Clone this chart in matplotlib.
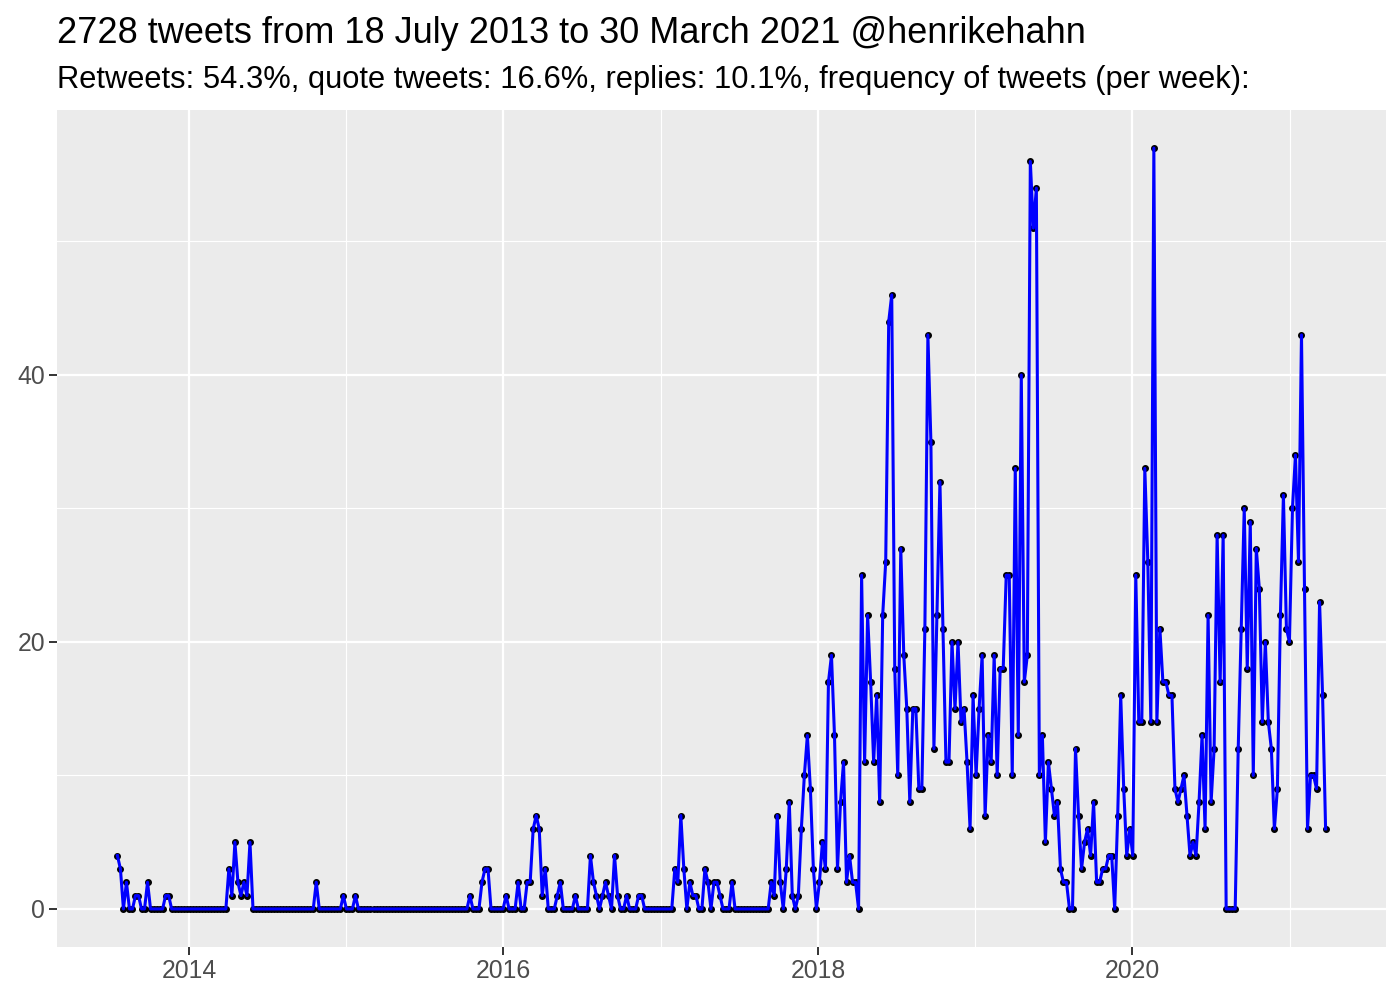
import pandas as pd
import matplotlib
matplotlib.use('Agg')
import matplotlib.pyplot as plt
import matplotlib.dates as mdates
from matplotlib.ticker import MultipleLocator

# Datos: tweets por semana
start_date = '2013-07-18'
weekly_counts = (
    [4, 3, 0, 2, 0, 0, 1, 1, 0, 0, 2, 0, 0, 0, 0, 0, 1, 1]
    + [0] * 18
    + [0, 3, 1, 5, 2, 1, 2, 1, 5, 0]
    + [0] * 20
    + [2] + [0] * 8 + [1] + [0] * 3 + [1]
    + [0] * 37
    + [1, 0, 0, 0, 2, 3, 3, 0, 0, 0, 0, 0, 1, 0, 0, 0]
    + [2, 0, 0, 2, 2, 6, 7, 6, 1, 3, 0, 0, 0, 1, 2, 0, 0, 0, 0, 1, 0, 0,
       0, 0, 4, 2, 1, 0, 1, 2, 1, 0, 4, 1, 0, 0, 1, 0, 0, 0, 1, 1, 0]
    + [0] * 9
    + [3, 2, 7, 3, 0, 2, 1, 1, 0, 0, 3, 2, 0, 2, 2, 1, 0, 0, 0, 2]
    + [0] * 12
    + [2, 1, 7, 2, 0, 3, 8, 1, 0, 1, 6, 10, 13]
    + [9, 3, 0, 2, 5, 3, 17, 19, 13, 3, 8, 11, 2, 4, 2, 2, 0]
    + [25, 11, 22, 17, 11, 16, 8, 22, 26, 44, 46, 18, 10, 27, 19, 15, 8,
       15, 15, 9, 9, 21, 43, 35, 12, 22, 32, 21, 11, 11, 20, 15, 20, 14]
    + [15, 11, 6, 16, 10, 15, 19, 7, 13, 11, 19, 10, 18, 18, 25, 25, 10,
       33, 13, 40, 17, 19, 56, 51, 54]
    + [10, 13, 5, 11, 9, 7, 8, 3, 2, 2, 0, 0, 12, 7, 3, 5, 6, 4, 8, 2, 2,
       3, 3, 4, 4, 0, 7, 16, 9, 4, 6, 4, 25, 14]
    + [14, 33, 26, 14, 57, 14, 21, 17, 17, 16, 16, 9, 8, 9, 10, 7, 4, 5,
       4, 8, 13, 6, 22, 8, 12, 28, 17, 28]
    + [0, 0, 0, 0]
    + [12, 21, 30, 18, 29, 10, 27, 24, 14, 20, 14, 12, 6, 9, 22, 31, 21,
       20, 30, 34, 26, 43, 24, 6, 10, 10, 9, 23, 16, 6]
)
weeks = pd.date_range(start_date, periods=len(weekly_counts), freq='7D')

title = '2728 tweets from 18 July 2013 to 30 March 2021 @henrikehahn'
subtitle = ('Retweets: 54.3%, quote tweets: 16.6%, replies: 10.1%, '
            'frequency of tweets (per week):')

plt.rcParams['font.family'] = ['Liberation Sans', 'DejaVu Sans']

fig = plt.figure(figsize=(14, 10), dpi=100)
ax = fig.add_axes([57 / 1400, 53 / 1000, 1329 / 1400, 837 / 1000])

# Estilo tipo ggplot (theme_gray)
ax.set_facecolor('#EBEBEB')
for spine in ax.spines.values():
    spine.set_visible(False)
ax.set_axisbelow(True)

# Serie: puntos negros debajo de la línea azul
ax.plot(weeks, weekly_counts, linestyle='none', marker='o', markersize=4,
        color='black', zorder=2)
ax.plot(weeks, weekly_counts, color='blue', linewidth=2.2, zorder=3)

ax.margins(x=0.05)
ax.set_ylim(-2.85, 59.85)

# Ejes y rejilla
ax.xaxis.set_major_locator(mdates.YearLocator(2))
ax.xaxis.set_major_formatter(mdates.DateFormatter('%Y'))
ax.xaxis.set_minor_locator(mdates.YearLocator(1))
ax.yaxis.set_major_locator(MultipleLocator(20))
ax.yaxis.set_minor_locator(MultipleLocator(10))

ax.grid(which='major', color='white', linewidth=1.6)
ax.grid(which='minor', color='white', linewidth=0.8)
ax.tick_params(which='major', length=5.5, width=1.4, color='#333333',
               labelsize=17.8, labelcolor='#4D4D4D', pad=3)
ax.tick_params(which='minor', length=0)

# Títulos
fig.text(57 / 1400, 1 - 43 / 1000, title, fontsize=26, va='baseline',
         ha='left', color='black')
fig.text(57 / 1400, 1 - 88 / 1000, subtitle, fontsize=22.2, va='baseline',
         ha='left', color='black')

fig.savefig('out.png', dpi=100)
plt.close(fig)
